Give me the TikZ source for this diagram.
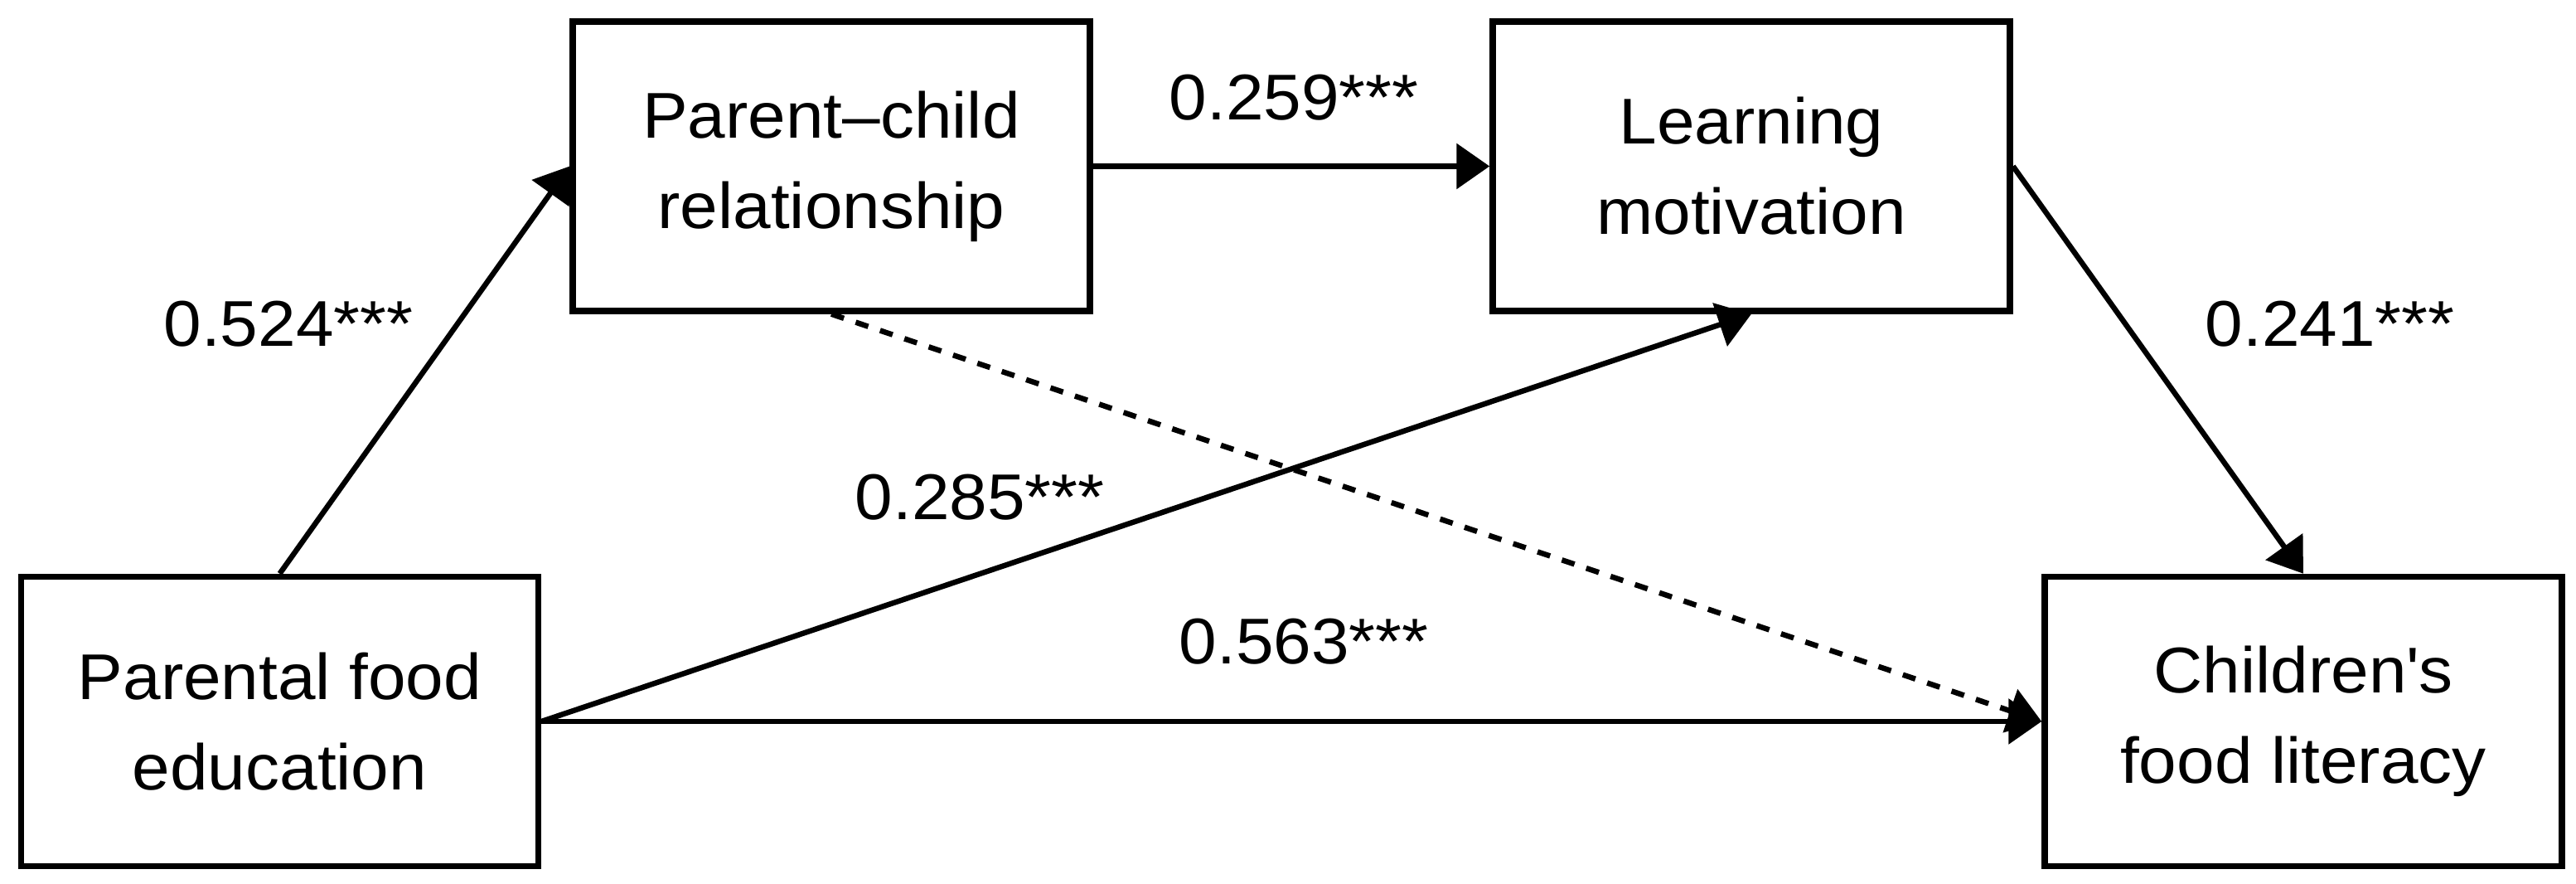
\documentclass[tikz,border=0pt]{standalone}
\usepackage{fontspec}
\setmainfont{Liberation Sans}[FakeStretch=1.05]
\usepackage{tikz}
\usetikzlibrary{arrows.meta,positioning}

\tikzset{
  var/.style={draw,line width=0.075cm,minimum width=6.24cm,minimum height=3.49cm,
    inner sep=0pt,align=center,font=\fontsize{22.2pt}{31pt}\selectfont},
  coef/.style={inner sep=0pt,font=\fontsize{22.2pt}{31pt}\selectfont},
  path/.style={line width=0.065cm,-{Triangle[length=0.4cm,width=0.54cm]}}
}

\begin{document}
\begin{tikzpicture}
  \useasboundingbox (0,0) rectangle (31.08,10.66);
  \node (pfe) [var] at (3.375,1.96) {Parental food\\education};
  \node (pcr) [var] at (10.03,8.655) {Parent--child\\relationship};
  \node (lm) [var] at (21.13,8.655) {Learning\\motivation};
  \node (cfl) [var] at (27.79,1.96) {Children\textquotesingle s\\food literacy};
  % paths and coefficients
  \draw [path] (pfe.north) -- (pcr.west);
  \draw [path] (pcr.east) -- (lm.west);
  \draw [path] (lm.east) -- (cfl.north);
  \draw [path] (pfe.east) -- (lm.south);
  \draw [path] (pfe.east) -- (cfl.west);
  \draw [path,dash pattern=on 0.16cm off 0.15cm] (pcr.south) -- (cfl.west);
  \node (c524) [coef] at (3.48,6.75) {0.524***};
  \node (c259) [coef] at (15.61,9.485) {0.259***};
  \node (c241) [coef] at (28.11,6.75) {0.241***};
  \node (c285) [coef] at (11.82,4.66) {0.285***};
  \node (c563) [coef] at (15.73,2.92) {0.563***};
\end{tikzpicture}
\end{document}
